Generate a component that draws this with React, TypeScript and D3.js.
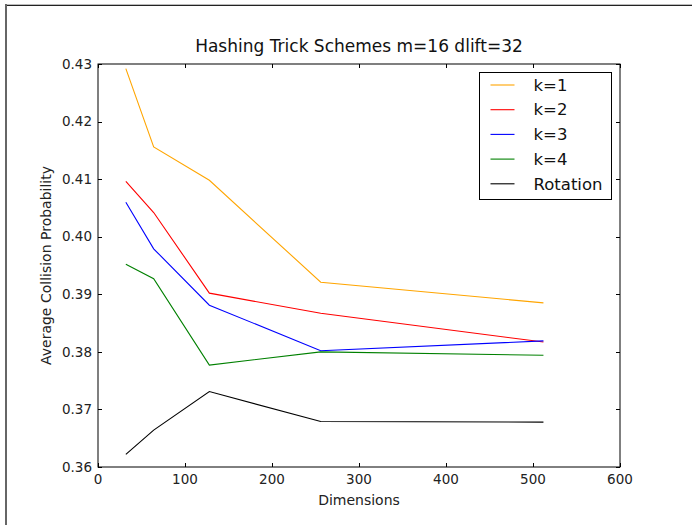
import React, { useRef, useEffect } from "react";
import * as d3 from "d3";

const WIDTH = 692;
const HEIGHT = 525;
const MARGIN = { top: 64, right: 72, bottom: 58, left: 98 };

const dimensions = [32, 64, 128, 256, 512];
const k1 = [0.4292, 0.4156, 0.4098, 0.3921, 0.3885];
const k2 = [0.4096, 0.4042, 0.3902, 0.3867, 0.3817];
const k3 = [0.406, 0.3979, 0.3881, 0.3802, 0.3819];
const k4 = [0.3952, 0.3927, 0.3777, 0.38, 0.3794];
const rotation = [0.3622, 0.3664, 0.3731, 0.3679, 0.3678];

const seriesNames = ["k=1", "k=2", "k=3", "k=4", "Rotation"];
const seriesColors = ["#ffa500", "#ff0000", "#0000ff", "#008000", "#000000"];
const xTicks = [0, 100, 200, 300, 400, 500, 600];
const yTicks = [0.36, 0.37, 0.38, 0.39, 0.4, 0.41, 0.42, 0.43];

const FONT = "'DejaVu Sans', sans-serif";

export default function App() {
  const ref = useRef<SVGSVGElement>(null);

  useEffect(() => {
    const svg = d3.select(ref.current);
    svg.selectAll("*").remove();

    const innerWidth = WIDTH - MARGIN.left - MARGIN.right;
    const innerHeight = HEIGHT - MARGIN.top - MARGIN.bottom;

    const x = d3.scaleLinear().domain([0, 600]).range([0, innerWidth]);
    const y = d3.scaleLinear().domain([0.36, 0.43]).range([innerHeight, 0]);

    svg.append("rect").attr("width", WIDTH).attr("height", HEIGHT).attr("fill", "#fff");

    // outer frame of the screenshot
    svg.append("line").attr("x1", 5).attr("x2", WIDTH).attr("y1", 4.5).attr("y2", 4.5)
      .attr("stroke", "#bbb").attr("stroke-width", 1);
    svg.append("line").attr("x1", 5).attr("x2", WIDTH).attr("y1", 5.5).attr("y2", 5.5)
      .attr("stroke", "#222").attr("stroke-width", 1);
    svg.append("line").attr("x1", 6).attr("x2", 6).attr("y1", 4).attr("y2", HEIGHT)
      .attr("stroke", "#666").attr("stroke-width", 2);

    const g = svg.append("g").attr("transform", `translate(${MARGIN.left},${MARGIN.top})`);

    const series = [k1, k2, k3, k4, rotation];
    const line = d3.line<number>()
      .x((d, i) => x(dimensions[i]))
      .y((d) => y(d));

    series.forEach((s, i) => {
      g.append("path")
        .datum(s)
        .attr("fill", "none")
        .attr("stroke", seriesColors[i])
        .attr("stroke-width", 1.1)
        .attr("d", line);
    });

    // frame
    g.append("rect")
      .attr("width", innerWidth)
      .attr("height", innerHeight)
      .attr("fill", "none")
      .attr("stroke", "#000")
      .attr("stroke-width", 1);

    const tickLen = 4;
    xTicks.forEach((t) => {
      const px = Math.round(x(t)) + 0.5;
      g.append("line").attr("x1", px).attr("x2", px).attr("y1", innerHeight).attr("y2", innerHeight - tickLen).attr("stroke", "#000");
      g.append("line").attr("x1", px).attr("x2", px).attr("y1", 0).attr("y2", tickLen).attr("stroke", "#000");
      g.append("text")
        .attr("x", x(t))
        .attr("y", innerHeight + 17)
        .attr("text-anchor", "middle")
        .attr("font-family", FONT)
        .attr("font-size", 13.5)
        .attr("fill", "#222")
        .text(t);
    });

    yTicks.forEach((t) => {
      const py = Math.round(y(t)) + 0.5;
      g.append("line").attr("x1", 0).attr("x2", tickLen).attr("y1", py).attr("y2", py).attr("stroke", "#000");
      g.append("line").attr("x1", innerWidth).attr("x2", innerWidth - tickLen).attr("y1", py).attr("y2", py).attr("stroke", "#000");
      g.append("text")
        .attr("x", -6)
        .attr("y", y(t))
        .attr("dy", "0.35em")
        .attr("text-anchor", "end")
        .attr("font-family", FONT)
        .attr("font-size", 13.5)
        .attr("fill", "#222")
        .text(t.toFixed(2));
    });

    g.append("text")
      .attr("x", innerWidth / 2)
      .attr("y", -12)
      .attr("text-anchor", "middle")
      .attr("font-family", FONT)
      .attr("font-size", 17)
      .attr("fill", "#111")
      .text("Hashing Trick Schemes m=16 dlift=32");

    g.append("text")
      .attr("x", innerWidth / 2)
      .attr("y", innerHeight + 38)
      .attr("text-anchor", "middle")
      .attr("font-family", FONT)
      .attr("font-size", 14)
      .attr("fill", "#222")
      .text("Dimensions");

    g.append("text")
      .attr("transform", `translate(${-47},${innerHeight / 2}) rotate(-90)`)
      .attr("text-anchor", "middle")
      .attr("font-family", FONT)
      .attr("font-size", 14)
      .attr("fill", "#222")
      .text("Average Collision Probability");

    // legend
    const lg = svg.append("g").attr("transform", "translate(479.5,72.5)");
    lg.append("rect")
      .attr("width", 132)
      .attr("height", 127)
      .attr("fill", "#fff")
      .attr("stroke", "#000")
      .attr("stroke-width", 1);
    seriesNames.forEach((name, i) => {
      const cy = 12.5 + i * 24.7;
      lg.append("line")
        .attr("x1", 11).attr("x2", 35)
        .attr("y1", cy).attr("y2", cy)
        .attr("stroke", seriesColors[i])
        .attr("stroke-width", 1.1);
      lg.append("text")
        .attr("x", 54)
        .attr("y", cy)
        .attr("dy", "0.35em")
        .attr("font-family", FONT)
        .attr("font-size", 16.5)
        .attr("fill", "#111")
        .text(name);
    });
  }, []);

  return (
    <svg
      ref={ref}
      width={WIDTH}
      height={HEIGHT}
      style={{ position: "absolute", left: 0, top: 0 }}
    />
  );
}
